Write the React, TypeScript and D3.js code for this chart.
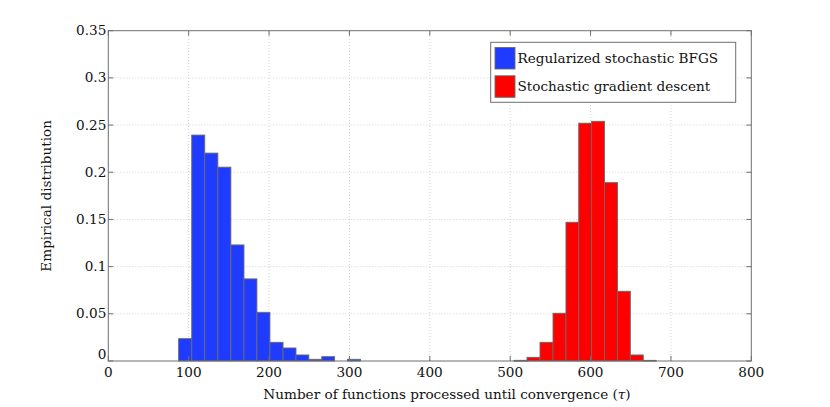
import React, { useEffect, useRef } from "react";
import * as d3 from "d3";

// histogram bin edges (tau) and empirical probabilities
const blueEdges = [87.5, 103.8, 120, 136.3, 152.5, 168.8, 184.9, 201.1, 217.4, 233.5, 249.5, 265.6, 281.6, 297.6, 313.8];
const blueValues = [0.0237, 0.2394, 0.2203, 0.2054, 0.123, 0.087, 0.0516, 0.0198, 0.0138, 0.0064, 0.0018, 0.0046, 0, 0.0018];
const redEdges = [504.8, 520.9, 537.1, 553.3, 569.4, 585.3, 601.3, 617.4, 633.5, 649.5, 665.6, 681.6];
const redValues = [0.0007, 0.0039, 0.0198, 0.0506, 0.147, 0.252, 0.254, 0.189, 0.0739, 0.0064, 0.0007];

const xTicks = [0, 100, 200, 300, 400, 500, 600, 700, 800];
const yTicks = [0, 0.05, 0.1, 0.15, 0.2, 0.25, 0.3, 0.35];
const legendLabels = ["Regularized stochastic BFGS", "Stochastic gradient descent"];
const colors = ["#1f3bff", "#ff0000"];

const W = 830;
const H = 407;
const FONT = "DejaVu Serif";
const FS = 13.6;

const App: React.FC = () => {
  const svgRef = useRef<SVGSVGElement | null>(null);

  useEffect(() => {
    if (!svgRef.current) return;
    const svg = d3.select(svgRef.current);
    svg.selectAll("*").remove();

    const x = d3.scaleLinear().domain([0, 800]).range([108.3, 751.3]);
    const y = d3.scaleLinear().domain([0, 0.35]).range([361, 30.7]);

    svg.append("rect").attr("width", W).attr("height", H).attr("fill", "#fff");

    // grid
    const grid = svg.append("g").attr("stroke", "#c8c8c8").attr("stroke-width", 0.8).attr("stroke-dasharray", "1,2");
    xTicks.slice(1, -1).forEach((t) => {
      grid.append("line").attr("x1", x(t)).attr("x2", x(t)).attr("y1", y(0)).attr("y2", y(0.35));
    });
    yTicks.slice(1, -1).forEach((t) => {
      grid.append("line").attr("x1", x(0)).attr("x2", x(800)).attr("y1", y(t)).attr("y2", y(t));
    });

    const drawHist = (edges: number[], values: number[], color: string) => {
      svg.append("g")
        .selectAll("rect")
        .data(values.map((v, i) => ({ x0: edges[i], x1: edges[i + 1], v })).filter((d) => d.v > 0))
        .enter()
        .append("rect")
        .attr("x", (d) => x(d.x0))
        .attr("width", (d) => x(d.x1) - x(d.x0))
        .attr("y", (d) => y(d.v))
        .attr("height", (d) => Math.max(y(0) - y(d.v), 0.8))
        .attr("fill", color)
        .attr("stroke", "#6b6b6b")
        .attr("stroke-width", 0.9);
    };
    drawHist(blueEdges, blueValues, colors[0]);
    drawHist(redEdges, redValues, colors[1]);

    // axes box
    svg.append("rect")
      .attr("x", x(0)).attr("y", y(0.35))
      .attr("width", x(800) - x(0)).attr("height", y(0) - y(0.35))
      .attr("fill", "none").attr("stroke", "#6e6e6e").attr("stroke-width", 1);

    // inward ticks
    const tk = svg.append("g").attr("stroke", "#6e6e6e").attr("stroke-width", 1);
    xTicks.forEach((t) => {
      tk.append("line").attr("x1", x(t)).attr("x2", x(t)).attr("y1", y(0)).attr("y2", y(0) - 5);
      tk.append("line").attr("x1", x(t)).attr("x2", x(t)).attr("y1", y(0.35)).attr("y2", y(0.35) + 5);
    });
    yTicks.forEach((t) => {
      tk.append("line").attr("x1", x(0)).attr("x2", x(0) + 5).attr("y1", y(t)).attr("y2", y(t));
      tk.append("line").attr("x1", x(800)).attr("x2", x(800) - 5).attr("y1", y(t)).attr("y2", y(t));
    });

    // tick labels
    const lab = svg.append("g").attr("font-family", FONT).attr("font-size", FS).attr("fill", "#111");
    xTicks.forEach((t) => {
      lab.append("text").attr("x", x(t)).attr("y", y(0) + 15.5).attr("text-anchor", "middle").text(String(t));
    });
    yTicks.forEach((t) => {
      lab.append("text").attr("x", x(0) - 2).attr("y", t === 0 ? y(t) - 2.5 : y(t) + 4.5).attr("text-anchor", "end").text(String(t));
    });

    // axis titles
    const xt = svg.append("text")
      .attr("x", 447).attr("y", 399)
      .attr("text-anchor", "middle")
      .attr("font-family", FONT).attr("font-size", FS).attr("fill", "#111");
    xt.append("tspan").text("Number of functions processed until convergence (");
    xt.append("tspan").attr("font-style", "italic").text("τ");
    xt.append("tspan").text(")");
    svg.append("text")
      .attr("transform", `translate(51,${(y(0) + y(0.35)) / 2}) rotate(-90)`)
      .attr("text-anchor", "middle")
      .attr("font-family", FONT).attr("font-size", FS).attr("fill", "#111")
      .text("Empirical distribution");

    // legend
    const lg = svg.append("g");
    lg.append("rect").attr("x", 490.7).attr("y", 42.3).attr("width", 245).attr("height", 60)
      .attr("fill", "#fff").attr("stroke", "#6e6e6e").attr("stroke-width", 1);
    legendLabels.forEach((l, i) => {
      const yy = 47.5 + i * 28.3;
      lg.append("rect").attr("x", 495).attr("y", yy).attr("width", 20).attr("height", 21.5)
        .attr("fill", colors[i]).attr("stroke", "#6b6b6b").attr("stroke-width", 0.9);
      lg.append("text").attr("x", 517.5).attr("y", yy + 15.5)
        .attr("font-family", FONT).attr("font-size", FS).attr("fill", "#111").text(l);
    });
  }, []);

  return <svg ref={svgRef} width={W} height={H} style={{ display: "block", position: "absolute", left: 0, top: 0 }} />;
};

export default App;
